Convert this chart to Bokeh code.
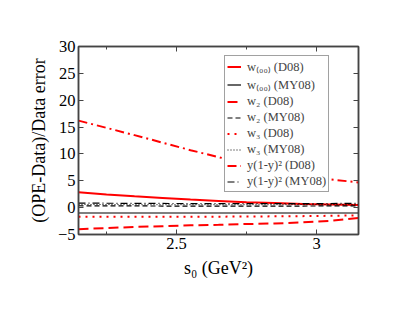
from bokeh.plotting import figure
from bokeh.models import (Range1d, LinearAxis, SingleIntervalTicker, CustomJSTickFormatter, Legend)
from bokeh.embed import file_html
from bokeh.resources import INLINE

s0 = [2.15, 2.25, 2.35, 2.45, 2.55, 2.65, 2.75, 2.85, 2.95, 3.05, 3.15]
w00_D08 = [2.85, 2.45, 2.1, 1.8, 1.5, 1.25, 1.0, 0.85, 0.7, 0.6, 0.5]
w00_MY08 = [-1.0, -1.0, -1.0, -1.0, -1.0, -1.0, -1.0, -1.0, -1.0, -1.0, -1.0]
w2_D08 = [-4.0, -3.8, -3.6, -3.45, -3.3, -3.2, -3.05, -2.95, -2.75, -2.45, -1.9]
w2_MY08 = [0.35, 0.33, 0.32, 0.3, 0.3, 0.3, 0.3, 0.3, 0.3, 0.32, 0.35]
w3_D08 = [-1.7, -1.7, -1.7, -1.7, -1.7, -1.68, -1.65, -1.62, -1.58, -1.52, -1.45]
w3_MY08 = [0.6, 0.58, 0.56, 0.55, 0.55, 0.55, 0.55, 0.55, 0.56, 0.58, 0.6]
y1y_D08 = [16.2, 14.85, 13.5, 12.1, 10.7, 9.4, 8.2, 7.1, 6.1, 5.25, 4.7]
y1y_MY08 = [0.85, 0.82, 0.8, 0.78, 0.76, 0.75, 0.74, 0.74, 0.75, 0.77, 0.8]

FONT = "Liberation Serif"
AXC = "#444444"

p = figure(width=395, height=304, output_backend="svg", toolbar_location=None,
           x_range=Range1d(2.15, 3.15), y_range=Range1d(-5, 30),
           min_border_left=78, min_border_right=37, min_border_top=46, min_border_bottom=70)
p.xgrid.visible = False
p.ygrid.visible = False
p.outline_line_color = AXC
p.outline_line_width = 1.5
p.background_fill_color = "white"

p.xaxis.ticker = SingleIntervalTicker(interval=0.5, num_minor_ticks=2)
p.yaxis.ticker = SingleIntervalTicker(interval=5, num_minor_ticks=0)

for ax in (p.xaxis[0], p.yaxis[0]):
    ax.axis_line_color = AXC
    ax.axis_line_width = 1.5
    ax.major_tick_in = 5
    ax.major_tick_out = 0
    ax.minor_tick_in = 3
    ax.minor_tick_out = 0
    ax.major_tick_line_color = AXC
    ax.minor_tick_line_color = AXC
    ax.major_label_text_font = FONT
    ax.major_label_text_font_size = "16.5px"
    ax.major_label_text_color = "black"
    ax.major_label_standoff = 3
    ax.axis_label_text_font = FONT
    ax.axis_label_text_font_size = "18px"
    ax.axis_label_text_font_style = "normal"
    ax.axis_label_text_color = "black"
    ax.axis_label_standoff = 6

p.xaxis.axis_label = "s\u2080 (GeV\u00b2)"
p.yaxis.axis_label = "(OPE-Data)/Data error"

top = LinearAxis(ticker=SingleIntervalTicker(interval=0.5, num_minor_ticks=2),
                 formatter=CustomJSTickFormatter(code="return ''"))
right = LinearAxis(ticker=SingleIntervalTicker(interval=5, num_minor_ticks=0),
                   formatter=CustomJSTickFormatter(code="return ''"))
for ax in (top, right):
    ax.axis_line_color = AXC
    ax.axis_line_width = 1.5
    ax.major_tick_in = 5
    ax.major_tick_out = 0
    ax.minor_tick_in = 3
    ax.minor_tick_out = 0
    ax.major_tick_line_color = AXC
    ax.minor_tick_line_color = AXC
    ax.major_label_text_font_size = "1px"
    ax.major_label_standoff = 0
p.add_layout(top, "above")
p.add_layout(right, "right")

RED = "#ff0000"
r1 = p.line(s0, w00_D08, line_color=RED, line_width=2)
r2 = p.line(s0, w00_MY08, line_color="black", line_width=1.2)
r3 = p.line(s0, w2_D08, line_color=RED, line_width=2, line_dash="10 5")
r4 = p.line(s0, w2_MY08, line_color="black", line_width=1.2, line_dash="5 3")
r5 = p.line(s0, w3_D08, line_color=RED, line_width=2, line_dash="2 5")
r6 = p.line(s0, w3_MY08, line_color="black", line_width=1, line_dash="1 2")
r7 = p.line(s0, y1y_D08, line_color=RED, line_width=2, line_dash="9 4 2 4")
r8 = p.line(s0, y1y_MY08, line_color="black", line_width=1.2, line_dash="7 3 1 3")

legend = Legend(items=[
    ("w\u208d\u2080\u2080\u208e (D08)", [r1]),
    ("w\u208d\u2080\u2080\u208e (MY08)", [r2]),
    ("w\u2082 (D08)", [r3]),
    ("w\u2082 (MY08)", [r4]),
    ("w\u2083 (D08)", [r5]),
    ("w\u2083 (MY08)", [r6]),
    ("y(1-y)\u00b2 (D08)", [r7]),
    ("y(1-y)\u00b2 (MY08)", [r8]),
], location=(146, 42))
legend.label_text_font = FONT
legend.label_text_font_size = "12.5px"
legend.label_height = 15
legend.glyph_height = 15
legend.glyph_width = 14
legend.spacing = 1
legend.padding = 2
legend.margin = 0
legend.label_standoff = 6
legend.border_line_color = AXC
legend.border_line_width = 1
legend.background_fill_color = "white"
legend.background_fill_alpha = 1
p.add_layout(legend, "center")

open("out.html", "w").write(file_html(p, INLINE))
